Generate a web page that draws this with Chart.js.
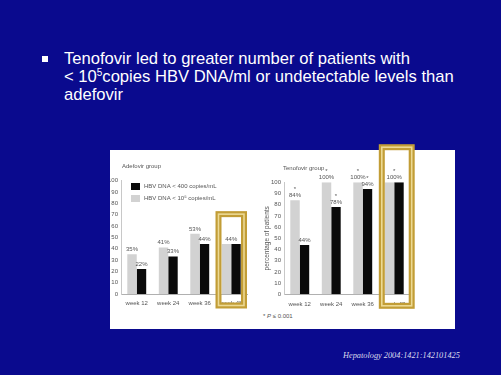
<!DOCTYPE html>
<html>
<head>
<meta charset="utf-8">
<script src="https://cdn.jsdelivr.net/npm/chart.js@4"></script>
<style>
  body { margin: 0; width: 501px; height: 375px; background: #0a0a8e; overflow: hidden; position: relative; font-family: "Liberation Sans", Arial, sans-serif; }
  .bullet { position: absolute; left: 42px; top: 56px; width: 6px; height: 6px; background: #fff; }
  .point { position: absolute; left: 64px; top: 50px; color: #fff; font-size: 16.6px; line-height: 18px; white-space: nowrap; }
  .point sup { font-size: 10px; line-height: 0; vertical-align: 6px; }
  .panel { position: absolute; left: 110px; top: 150px; width: 345px; height: 179px; background: #fff; }
  .note { position: absolute; left: 263px; top: 313px; font-size: 6px; color: #555; }
  .cite { position: absolute; left: 343px; top: 351px; font-family: "Liberation Serif", "Times New Roman", serif; font-style: italic; font-size: 8.3px; color: #dcdcec; }
  canvas { position: absolute; }
  #adefovir { left: 110px; top: 140px; }
  #tenofovir { left: 255px; top: 140px; }
</style>
</head>
<body>
<div class="bullet"></div>
<div class="point">Tenofovir led to greater number of patients with<br>&lt; 10<sup>5</sup>copies HBV DNA/ml or undetectable levels than<br>adefovir</div>
<div class="panel"></div>
<div class="note">* <i>P</i> ≤ 0.001</div>
<div class="cite">Hepatology 2004:1421:142101425</div>
<canvas id="adefovir" width="150" height="180"></canvas>
<canvas id="tenofovir" width="200" height="180"></canvas>
<script>
// values (percentage of patients)
var weeks = ["week 12", "week 24", "week 36", "week 48"];
var seriesNames = ["HBV DNA < 10\u2075 copies/mL", "HBV DNA < 400 copies/mL"];
var adefovirUnder1e5 = [35, 41, 53, 44];
var adefovirUnder400 = [22, 33, 44, 44];
var tenofovirUnder1e5 = [84, 100, 100, 100];
var tenofovirUnder400 = [44, 78, 94, 100];
// significance asterisks (P <= 0.001)
var tenofovirStar1e5 = [true, true, true, true];
var tenofovirStar400 = [false, true, true, true];

var FONT = '"Liberation Sans", Arial, sans-serif';
var GREY = "#d2d2d2";
var BLACK = "#0a0a0a";
var TEXT = "#555";

var decor = {
  id: "decor",
  afterDatasetsDraw: function (chart, args, opts) {
    var ctx = chart.ctx, xs = chart.scales.x, ys = chart.scales.y, area = chart.chartArea;
    var ds = chart.data.datasets;
    ctx.save();
    ctx.font = "6px " + FONT;
    ctx.fillStyle = TEXT;
    ctx.textAlign = "center";
    ctx.textBaseline = "middle";
    var stars = opts.stars || [[], []];
    for (var i = 0; i < weeks.length; i++) {
      var a = ds[0].data[i], b = ds[1].data[i];
      if (a === b) {
        var cx = xs.getPixelForValue(i), cy = ys.getPixelForValue(a) - 5;
        ctx.fillText(a + "%", cx, cy);
        if (stars[0][i] || stars[1][i]) ctx.fillText("*", cx, cy - 6);
      } else {
        for (var d = 0; d < 2; d++) {
          var bar = chart.getDatasetMeta(d).data[i];
          var v = ds[d].data[i];
          ctx.fillText(v + "%", bar.x, bar.y - 5);
          if (stars[d][i]) ctx.fillText("*", bar.x, bar.y - 11);
        }
      }
    }
    // group title
    ctx.textAlign = "left";
    ctx.fillText(opts.title, area.left + opts.titleDx, area.top - 14);
    // legend inside the plot
    if (opts.legend) {
      var order = [1, 0];
      order.forEach(function (d, k) {
        var yy = area.top + 6 + k * 12;
        ctx.fillStyle = ds[d].backgroundColor;
        ctx.fillRect(area.left + 10, yy - 3.5, 9, 7);
        ctx.fillStyle = TEXT;
        ctx.fillText(ds[d].label, area.left + 23, yy);
      });
    }
    ctx.restore();
  },
  afterDraw: function (chart, args, opts) {
    // gold highlight frame round week 48
    var ctx = chart.ctx, xs = chart.scales.x, ys = chart.scales.y;
    var half = (xs.getPixelForValue(1) - xs.getPixelForValue(0)) / 2 + opts.boxExtra;
    var cx = xs.getPixelForValue(3) + opts.boxShift;
    var top = ys.getPixelForValue(opts.boxTop);
    var bottom = ys.getPixelForValue(0) + 14.5;
    ctx.save();
    ctx.lineWidth = 6;
    ctx.strokeStyle = "#c29d36";
    ctx.strokeRect(cx - half + 3, top + 3, 2 * half - 6, bottom - top - 6);
    ctx.lineWidth = 1.6;
    ctx.strokeStyle = "#ecd994";
    ctx.strokeRect(cx - half + 3, top + 3, 2 * half - 6, bottom - top - 6);
    ctx.restore();
  }
};

function makeChart(id, light, dark, cfg) {
  return new Chart(document.getElementById(id), {
    type: "bar",
    data: {
      labels: weeks,
      datasets: [
        { label: seriesNames[0], data: light, backgroundColor: GREY },
        { label: seriesNames[1], data: dark, backgroundColor: BLACK }
      ]
    },
    options: {
      responsive: false,
      animation: false,
      devicePixelRatio: 1,
      categoryPercentage: 0.6,
      barPercentage: 1,
      layout: { padding: cfg.padding },
      plugins: {
        legend: { display: false },
        tooltip: { enabled: false },
        decor: cfg.decor
      },
      scales: {
        x: {
          grid: { display: false, drawTicks: false },
          border: { color: "#b0b0b0" },
          ticks: { font: { size: 6, family: FONT }, color: TEXT, padding: 6 },
          afterFit: function (s) { s.height = 15; }
        },
        y: {
          min: 0, max: 100,
          grid: { display: false, drawTicks: false },
          border: { color: "#c8c8c8" },
          ticks: { stepSize: 10, font: { size: 6, family: FONT }, color: TEXT, padding: 3 },
          title: cfg.yTitle,
          afterFit: function (s) { s.width = cfg.yWidth; }
        }
      }
    },
    plugins: [decor]
  });
}

makeChart("adefovir", adefovirUnder1e5, adefovirUnder400, {
  padding: { left: 0, right: 13, top: 40.5, bottom: 11 },
  yWidth: 11,
  yTitle: { display: false },
  decor: { title: "Adefovir group", titleDx: 1, legend: true, stars: [[], []],
           boxTop: 73, boxExtra: 0, boxShift: 0 }
});

makeChart("tenofovir", tenofovirUnder1e5, tenofovirUnder400, {
  padding: { left: 0, right: 45, top: 42.3, bottom: 10.7 },
  yWidth: 29,
  yTitle: { display: true, text: "percentage of patients", color: TEXT,
            font: { size: 6.5, family: FONT }, padding: { top: 8, bottom: 0 } },
  decor: { title: "Tenofovir group", titleDx: -1, legend: false,
           stars: [tenofovirStar1e5, tenofovirStar400],
           boxTop: 134, boxExtra: 2.2, boxShift: 2.5 }
});
</script>
</body>
</html>
